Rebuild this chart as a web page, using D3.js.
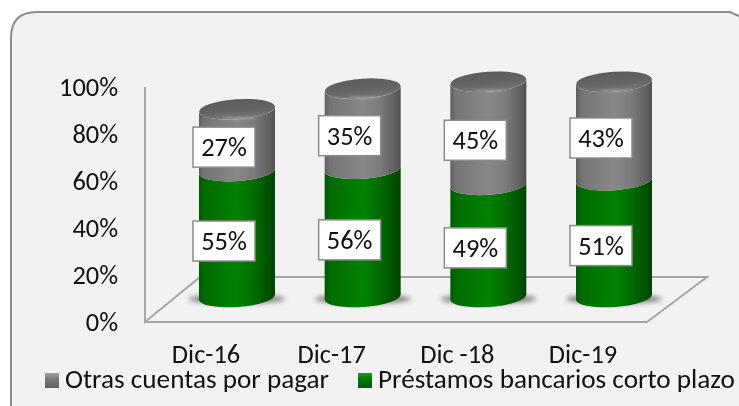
<!DOCTYPE html>
<html><head><meta charset="utf-8">
<script src="https://cdn.jsdelivr.net/npm/d3@7"></script>
<style>html,body{margin:0;padding:0;background:#fff}svg{display:block;filter:blur(.35px)}text{font-family:Carlito,Lato,"Open Sans",sans-serif;fill:#111}</style>
</head><body><div id="c"></div>
<script>
const categories=["Dic-16","Dic-17","Dic -18","Dic-19"];
const prestamos=[55,56,49,51];
const otras=[27,35,45,43];
const yTicks=[0,20,40,60,80,100];
const seriesNames=["Otras cuentas por pagar","Préstamos bancarios corto plazo"];
const W=739,H=406,FS=26.4,LFS=27.2;
const svg=d3.select("#c").append("svg").attr("width",W).attr("height",H);
const defs=svg.append("defs");
function grad(id,stops,v){const g=defs.append("linearGradient").attr("id",id);if(v)g.attr("x2",0).attr("y2",1);stops.forEach(s=>g.append("stop").attr("offset",s[0]).attr("stop-color",s[1]));}
grad("gr",[[0,"#5e5e5e"],[.07,"#747474"],[.5,"#888888"],[.72,"#7c7c7c"],[.93,"#5f5f5f"],[1,"#505050"]]);
grad("gn",[[0,"#005a00"],[.08,"#006c00"],[.5,"#008200"],[.72,"#006c00"],[.92,"#005000"],[1,"#004400"]]);
grad("tp",[[0,"#5c5c5c"],[.55,"#646464"],[.85,"#727272"],[1,"#808080"]],true);
grad("lgr",[[0,"#a0a0a0"],[.4,"#7c7c7c"],[1,"#5e5e5e"]],true);
grad("lgn",[[0,"#1f9a1f"],[.4,"#007c00"],[1,"#005a00"]],true);
defs.append("filter").attr("id","sh").attr("x","-30%").attr("y","-100%").attr("width","160%").attr("height","300%").append("feGaussianBlur").attr("stdDeviation",2.5);
defs.append("filter").attr("id","soft").attr("x","-30%").attr("y","-100%").attr("width","160%").attr("height","300%").append("feGaussianBlur").attr("stdDeviation",1.2);

svg.append("path").attr("d",`M11 ${H+2}V38Q11 12 37 12H730L${W+2} 17V${H+2}Z`).attr("fill","#f2f2f2").attr("stroke","#8c8c8c").attr("stroke-width",2);

const y=d3.scaleLinear().domain([0,100]).range([322,87]);
const h=d3.scaleLinear().domain([0,100]).range([297,68]);
const x=d3.scalePoint().domain(categories).range([237,614]);
const rx=38,ry=10,tilt=2.8;

svg.append("path").attr("d",`M145 ${y(100)}V${y(0)}L200 277H707L647 ${y(0)}H145`).attr("fill","none").attr("stroke","#a6a6a6").attr("stroke-width",2);
const ax=d3.axisLeft(y).tickValues(yTicks).tickFormat(d=>d+"%").tickSize(0).tickPadding(0);
const ag=svg.append("g").attr("transform","translate(118,0)").call(ax);
ag.select(".domain").remove();
ag.selectAll("text").attr("font-size",FS).style("font-family",null);

function seg(cx,y0,y1){return `M${cx-rx} ${y1+tilt}A${rx} ${ry} -4 0 0 ${cx+rx} ${y1-tilt}L${cx+rx} ${y0-tilt}A${rx} ${ry} -4 0 1 ${cx-rx} ${y0+tilt}Z`;}

categories.forEach((c,i)=>{
  const cx=x(c),g=svg.append("g");
  g.append("ellipse").attr("cx",cx).attr("cy",h(0)+2).attr("rx",rx+10).attr("ry",5).attr("fill","#555").attr("opacity",.7).attr("filter","url(#sh)");
  const a=prestamos[i],b=otras[i],top=h(a+b);
  g.append("path").attr("d",seg(cx,h(0),h(a))).attr("fill","url(#gn)");
  g.append("path").attr("d",seg(cx,h(a),top)).attr("fill","url(#gr)");
  g.append("ellipse").attr("cx",cx).attr("cy",top).attr("rx",rx).attr("ry",ry)
    .attr("transform",`rotate(-4 ${cx} ${top})`).attr("fill","url(#tp)");
  g.append("ellipse").attr("cx",cx+2).attr("cy",top+ry-1).attr("rx",rx*.45).attr("ry",1.2)
    .attr("fill","#a8a8a8").attr("opacity",.7).attr("filter","url(#soft)");
});

function label(cx,v,mid){
  const bw=62,bh=40,lx=cx-13,ly=h(mid)+7;
  svg.append("rect").attr("x",lx-bw/2).attr("y",ly-bh/2).attr("width",bw).attr("height",bh).attr("fill","#fff").attr("stroke","#8c8c8c").attr("stroke-width",1.5);
  svg.append("text").attr("x",lx).attr("y",ly+9).attr("text-anchor","middle").attr("font-size",FS).text(v+"%");
}
categories.forEach((c,i)=>{
  label(x(c),otras[i],prestamos[i]+otras[i]/2);
  label(x(c),prestamos[i],prestamos[i]/2);
  svg.append("text").attr("x",x(c)-31).attr("y",363).attr("text-anchor","middle").attr("font-size",FS).text(c);
});

const lg=[[45,65,"url(#lgr)"],[358,378,"url(#lgn)"]];
seriesNames.forEach((n,i)=>{
  const l=lg[i];
  svg.append("rect").attr("x",l[0]).attr("y",373).attr("width",14).attr("height",15).attr("fill",l[2]);
  svg.append("text").attr("x",l[1]).attr("y",388).attr("font-size",LFS).text(n);
});
</script></body></html>
